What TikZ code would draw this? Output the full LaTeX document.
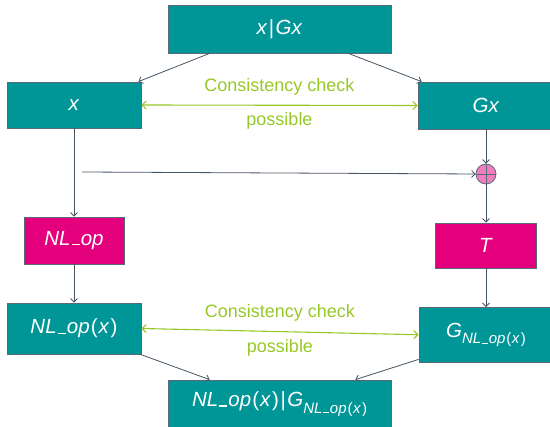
\documentclass[tikz,border=0pt]{standalone}
\usepackage{fontspec}
\setmainfont{Liberation Sans}
\usetikzlibrary{arrows.meta}

\definecolor{boxteal}{RGB}{0,150,152}
\definecolor{boxmag}{RGB}{228,0,124}
\definecolor{edgegray}{RGB}{90,105,120}
\definecolor{wire}{RGB}{70,85,100}
\definecolor{checkgreen}{RGB}{150,200,40}
\definecolor{sumpink}{RGB}{240,125,190}

% short, low underscore as in NL_op
\newcommand{\nlbar}{\kern0.06em\rule[0em]{0.38em}{0.055em}\kern0.06em}
\newcommand{\nlop}{\textit{NL\nlbar op}}
\newcommand{\argx}{\kern0.06em(\kern0.04em\textit{x}\kern0.06em)}
\newcommand{\gsub}{\textit{G}\raisebox{-0.32em}{\fontsize{15}{15}\selectfont\nlop\argx}}

\begin{document}
\begin{tikzpicture}[x=1pt,y=-1pt,
  box/.style={draw=edgegray, line width=0.8pt, fill=boxteal, text=white,
    inner sep=0pt, font=\fontsize{20.5}{24}\selectfont},
  opbox/.style={box, fill=boxmag},
  wirearrow/.style={draw=wire, line width=0.8pt, -{Straight Barb[length=3.5pt,width=7pt]}},
  check/.style={draw=checkgreen, line width=1.1pt,
    {Straight Barb[length=4pt,width=8pt]}-{Straight Barb[length=4pt,width=8pt]}},
  checklabel/.style={text=checkgreen, font=\fontsize{18}{20}\selectfont}]
\useasboundingbox (0,0) rectangle (550,427);

% boxes
\node[box, minimum width=223pt, minimum height=48pt] (pair) at (279.5,29)
  {\textit{x}\kern1.5pt|\kern1.5pt\textit{Gx}};
\node[box, minimum width=134pt, minimum height=46pt] (xb) at (74,105) {\textit{x}};
\node[box, minimum width=136pt, minimum height=47pt] (gx) at (486,105.5) {\textit{Gx}};
\node[opbox, minimum width=100pt, minimum height=47pt] (nlop) at (74,240.5) {\nlop};
\node[opbox, minimum width=101pt, minimum height=45pt] (T) at (486,245.5) {\textit{T}};
\node[box, minimum width=134pt, minimum height=51pt] (nlopx) at (74,328.5) {\nlop\argx};
\node[box, minimum width=134pt, minimum height=54.5pt] (gnl) at (486,334.75) {\gsub};
\node[box, minimum width=223pt, minimum height=48pt] (bottom) at (279.5,404)
  {\nlop\argx\kern1.5pt|\kern1.5pt\gsub};

% summing junction
\node[circle, draw=edgegray, fill=sumpink, line width=0.8pt, minimum size=20pt,
  inner sep=0pt] (sum) at (486,174) {};
\draw[edgegray, line width=0.8pt] (sum.west) -- (sum.east) (sum.north) -- (sum.south);

\coordinate (tap) at (82,172);

% signal flow
\draw[wirearrow] ([xshift=42pt]pair.south west) -- ([xshift=-3pt]xb.north east);
\draw[wirearrow] ([xshift=-43pt]pair.south east) -- ([xshift=4pt]gx.north west);
\draw[wirearrow] (xb) -- (nlop);
\draw[wirearrow] (tap) -- (sum.west);
\draw[wirearrow] (gx) -- (sum);
\draw[wirearrow] (sum) -- (T);
\draw[wirearrow] (T) -- (gnl);
\draw[wirearrow] (nlop) -- (nlopx);
\draw[wirearrow] ([xshift=-1pt]nlopx.south east) -- ([xshift=42pt]bottom.north west);
\draw[wirearrow] ([yshift=3pt]gnl.south west) -- ([xshift=-36pt]bottom.north east);

% consistency checks
\draw[check] (xb.east) --
  node[checklabel, yshift=18.5pt] {Consistency check}
  node[checklabel, yshift=-16pt] {possible} (gx.west);
\draw[check] (nlopx.east) --
  node[checklabel, yshift=18.6pt] {Consistency check}
  node[checklabel, yshift=-16.4pt] {possible} (gnl.west);
\end{tikzpicture}
\end{document}
